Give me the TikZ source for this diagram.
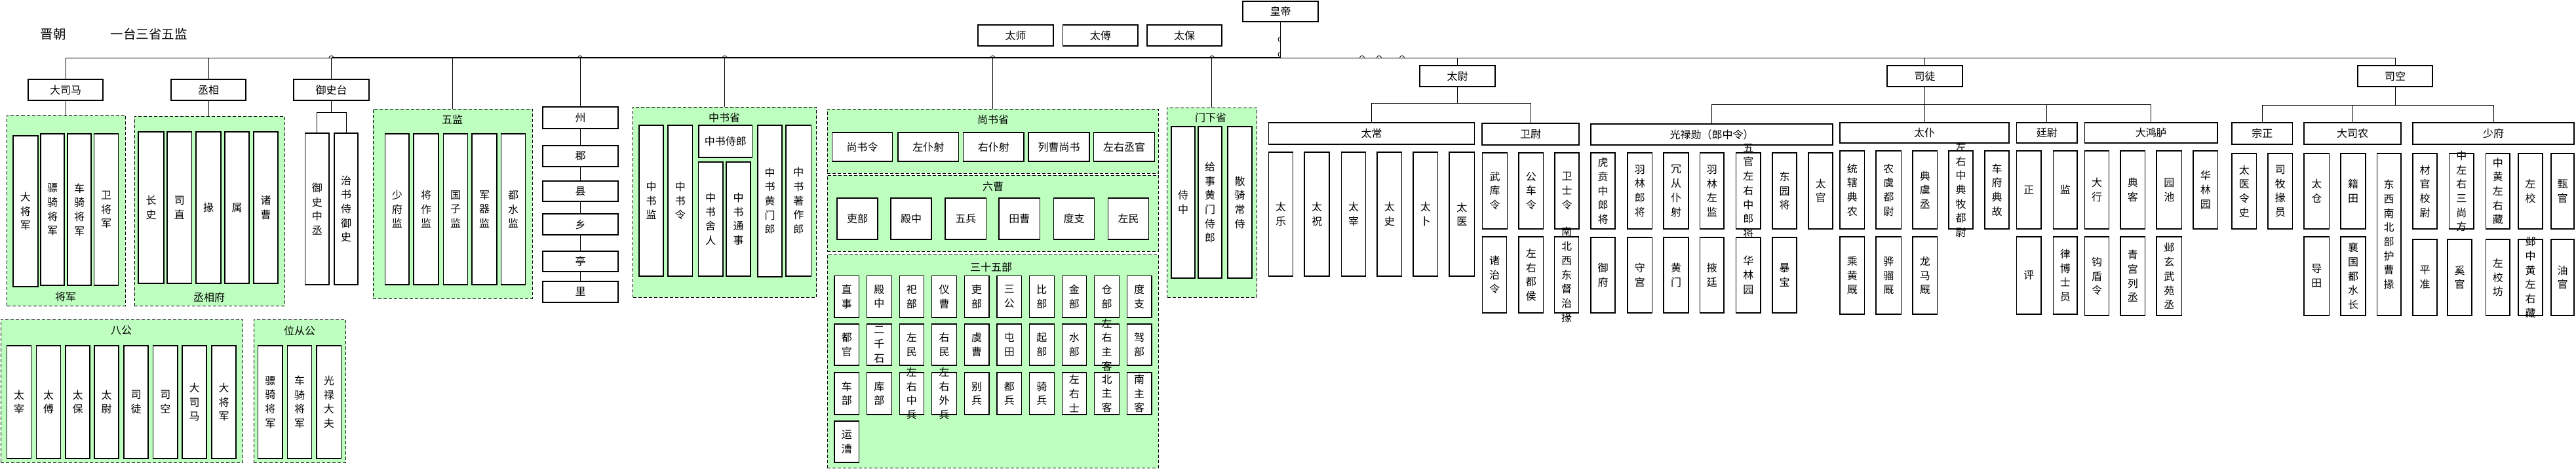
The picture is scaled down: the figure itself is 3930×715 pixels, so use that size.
\documentclass[tikz,border=0pt]{standalone}
\usepackage{fontspec}
\setmainfont{Noto Sans CJK SC}
\usetikzlibrary{fit}
\definecolor{grpgreen}{RGB}{190,255,192}
\ExplSyntaxOn
\NewDocumentCommand\vt{m}{\seq_clear:N \l_tmpa_seq \tl_set:Nx \l_tmpa_tl {#1} \tl_map_inline:Nn \l_tmpa_tl {\seq_put_right:Nn \l_tmpa_seq {##1}} \seq_use:Nn \l_tmpa_seq {\\}}
\ExplSyntaxOff
\newcommand\mkh[6]{\node[box,fit={(#2,#3) (#4,#5)},label={[lbl]center:#6}] (#1) {};}
\newcommand\mkv[6]{\node[box,fit={(#2,#3) (#4,#5)},label={[lbl]center:\vt{#6}}] (#1) {};}
\newcommand\mkg[5]{\node[grp,fit={(#2,#3) (#4,#5)}] (#1) {};}
\begin{document}
\begin{tikzpicture}[x=0.5pt,y=-0.5pt,
  box/.style={draw=black,line width=0.6pt,fill=white,inner sep=0pt,outer sep=0pt},
  grp/.style={draw=black,dash pattern=on 2.5pt off 1.5pt,line width=0.45pt,fill=grpgreen,inner sep=0pt,outer sep=0pt},
  lbl/.style={font=\fontsize{8}{10.85}\selectfont,align=center,inner sep=0pt},
  glbl/.style={font=\fontsize{8}{10}\selectfont,inner sep=0pt},
  ttl/.style={font=\fontsize{9.75}{12}\selectfont,inner sep=0pt},
  conn/.style={line width=0.4pt},
  thickline/.style={line width=0.9pt}]
\useasboundingbox[fill=white] (0,0) rectangle (3930,715);

% titles
\node[ttl] (t1) at (81,52) {晋朝};
\node[ttl] (t2) at (227,52) {一台三省五监};

% top boxes
\mkh{hd}{1896}{2}{2011}{33}{皇帝}
\mkh{ts}{1492}{38}{1607}{70}{太师}
\mkh{tf}{1621.5}{38}{1736}{70}{太傅}
\mkh{tb}{1750}{38}{1864}{70}{太保}

% left part
\mkh{dsm}{43}{121}{157}{153}{大司马}
\mkh{cx}{261}{121}{375}{153}{丞相}
\mkh{yst}{448}{121}{563}{153}{御史台}

\mkg{gjj}{10.5}{176}{191}{466}
\node[glbl] (ljj) at (100,452) {将军};
\mkv{jj1}{20}{207}{58}{437}{大将军}
\mkv{jj2}{62}{204}{98}{435}{骠骑将军}
\mkv{jj3}{103}{204}{139}{435}{车骑将军}
\mkv{jj4}{143.5}{204}{180.5}{435}{卫将军}

\mkg{gcx}{205}{177}{434}{466}
\node[glbl] (lcx) at (319,453) {丞相府};
\mkv{cf1}{211}{201}{250}{432}{长史}
\mkv{cf2}{255}{201}{292.5}{432}{司直}
\mkv{cf3}{299}{201}{337}{432}{掾}
\mkv{cf4}{343}{201}{380}{432}{属}
\mkv{cf5}{387}{201}{424}{432}{诸曹}

\mkv{ys1}{465.5}{203}{502}{434}{御史中丞}
\mkv{ys2}{510}{203}{546}{434}{治书侍御史}

\mkg{gwj}{569}{166}{812}{455}
\node[glbl] (lwj) at (690,182) {五监};
\mkv{wj1}{587.5}{204}{624}{434}{少府监}
\mkv{wj2}{631}{204}{669}{434}{将作监}
\mkv{wj3}{676.5}{204}{713.5}{434}{国子监}
\mkv{wj4}{720}{204}{758}{434}{军器监}
\mkv{wj5}{764.5}{204}{801.5}{434}{都水监}

\mkg{gbg}{1}{487}{370}{705}
\node[glbl] (lbg) at (185,504) {八公};
\mkv{bg1}{10.5}{527}{47.5}{699}{太宰}
\mkv{bg2}{55.5}{527}{92.6}{699}{太傅}
\mkv{bg3}{100}{527}{137}{699}{太保}
\mkv{bg4}{144}{527}{181}{699}{太尉}
\mkv{bg5}{189}{527}{226}{699}{司徒}
\mkv{bg6}{233.5}{527}{271}{699}{司空}
\mkv{bg7}{278}{527}{315}{699}{大司马}
\mkv{bg8}{323}{527}{360}{699}{大将军}

\mkg{gwc}{387}{487}{527}{705}
\node[glbl] (lwc) at (457,504) {位从公};
\mkv{wc1}{393.5}{527}{431}{699}{骠骑将军}
\mkv{wc2}{438.5}{527}{475.5}{699}{车骑将军}
\mkv{wc3}{483}{527}{520.6}{699}{光禄大夫}

% local chain
\mkh{zhou}{828}{163}{943}{196}{州}
\mkh{jun}{828}{222}{943}{254}{郡}
\mkh{xian}{828}{276}{943}{307}{县}
\mkh{xiang}{828}{326}{943}{358}{乡}
\mkh{ting}{828}{383}{943}{414}{亭}
\mkh{li}{828}{429}{943}{461}{里}

% zhongshu
\mkg{gzs}{965.7}{163}{1245.5}{453}
\node[glbl] (lzs) at (1105,179) {中书省};
\mkv{zs1}{975}{191}{1012}{421}{中书监}
\mkv{zs2}{1019}{191}{1056.6}{421}{中书令}
\mkh{zs3}{1066}{191}{1147.5}{240}{中书侍郎}
\mkv{zs4}{1065.4}{247}{1103}{421}{中书舍人}
\mkv{zs5}{1108}{247}{1145}{421}{中书通事}
\mkv{zs6}{1156}{191}{1193}{422}{中书黄门郎}
\mkv{zs7}{1199}{191}{1237.5}{421}{中书著作郎}

% shangshu
\mkg{gss}{1262}{166}{1767}{264}
\node[glbl] (lss) at (1515,182) {尚书省};
\mkh{ss1}{1269.5}{202}{1361.5}{246}{尚书令}
\mkh{ss2}{1370}{202}{1462.5}{246}{左仆射}
\mkh{ss3}{1469.6}{202}{1562}{246}{右仆射}
\mkh{ss4}{1569}{202}{1662}{246}{列曹尚书}
\mkh{ss5}{1668.7}{202}{1761.7}{246}{左右丞官}

\mkg{glc}{1262}{267}{1767}{383}
\node[glbl] (llc) at (1515,284) {六曹};
\mkh{lc1}{1277}{302}{1339}{365}{吏部}
\mkh{lc2}{1359}{302}{1421}{365}{殿中}
\mkh{lc3}{1442}{302}{1504.5}{365}{五兵}
\mkh{lc4}{1524}{302}{1586.6}{365}{田曹}
\mkh{lc5}{1607.6}{302}{1669.5}{365}{度支}
\mkh{lc6}{1690.6}{302}{1752.4}{365}{左民}

\mkg{gsw}{1262}{388}{1767}{713}
\node[glbl] (lsw) at (1512,407) {三十五部};
\foreach \nm [count=\i] in {直事,殿中,祀部,仪曹,吏部,三公,比部,金部,仓部,度支}{
  \pgfmathsetmacro\xa{1273+(\i-1)*49.6}\pgfmathsetmacro\xb{\xa+37.5}
  \mkv{ra\i}{\xa}{420.7}{\xb}{484}{\nm}}
\foreach \nm [count=\i] in {都官,二千石,左民,右民,虞曹,屯田,起部,水部,左右主客,驾部}{
  \pgfmathsetmacro\xa{1273+(\i-1)*49.6}\pgfmathsetmacro\xb{\xa+37.5}
  \mkv{rb\i}{\xa}{494}{\xb}{557}{\nm}}
\foreach \nm [count=\i] in {车部,库部,左右中兵,左右外兵,别兵,都兵,骑兵,左右士,北主客,南主客}{
  \pgfmathsetmacro\xa{1273+(\i-1)*49.6}\pgfmathsetmacro\xb{\xa+37.5}
  \mkv{rc\i}{\xa}{568}{\xb}{632}{\nm}}
\mkv{rd1}{1273}{642}{1310.5}{705}{运漕}

% menxia
\mkg{gmx}{1780.6}{164}{1917}{453}
\node[glbl] (lmx) at (1847,179) {门下省};
\mkv{mx1}{1787}{193}{1823}{424}{侍中}
\mkv{mx2}{1828}{193}{1864}{424}{给事黄门侍郎}
\mkv{mx3}{1873}{193}{1910}{424}{散骑常侍}

% taiwei
\mkh{tw}{2166}{100}{2281}{132}{太尉}
\mkh{tc}{1935.6}{187}{2249.6}{220}{太常}
\mkh{ww}{2261}{188}{2409}{221}{卫尉}
\mkh{gl}{2427}{189}{2796}{221}{光禄勋（郎中令）}
\mkv{tc1}{1935.6}{232}{1972.5}{421}{太乐}
\mkv{tc2}{1990}{232}{2028}{421}{太祝}
\mkv{tc3}{2046.6}{232}{2083.5}{421}{太宰}
\mkv{tc4}{2101}{232}{2138.6}{421}{太史}
\mkv{tc5}{2156}{232}{2193.6}{421}{太卜}
\mkv{tc6}{2211}{232}{2249.6}{421}{太医}
\mkv{ww1}{2261.7}{233}{2299.5}{349}{武库令}
\mkv{ww2}{2317}{233}{2354.5}{349}{公车令}
\mkv{ww3}{2372}{233}{2409}{349}{卫士令}
\mkv{ww4}{2261.7}{361}{2298.6}{477}{诸治令}
\mkv{ww5}{2317}{361}{2354.5}{477}{左右都侯}
\mkv{ww6}{2371.4}{361}{2408.7}{477}{南北西东督治掾}
\mkv{gl1}{2427}{233}{2464}{349}{虎贲中郎将}
\mkv{gl2}{2483}{233}{2520.6}{349}{羽林郎将}
\mkv{gl3}{2538}{233}{2576}{349}{冗从仆射}
\mkv{gl4}{2593.5}{233}{2630}{349}{羽林左监}
\mkv{gl5}{2648.5}{233}{2686}{349}{五官左右中郎将}
\mkv{gl6}{2704}{233}{2741}{349}{东园将}
\mkv{gl7}{2759}{233}{2796}{349}{太官}
\mkv{gl8}{2427}{362}{2464}{477}{御府}
\mkv{gl9}{2483}{362}{2520.6}{477}{守宫}
\mkv{gl10}{2538}{362}{2576}{477}{黄门}
\mkv{gl11}{2593.5}{362}{2630}{477}{掖廷}
\mkv{gl12}{2648.5}{362}{2686}{477}{华林园}
\mkv{gl13}{2704}{362}{2741}{477}{暴宝}

% situ
\mkh{sd}{2879}{100}{2994}{132}{司徒}
\mkh{tp}{2807}{187}{3065}{218}{太仆}
\mkh{tyw}{3076.5}{187}{3169}{218}{廷尉}
\mkh{dhl}{3180.6}{187}{3383}{218}{大鸿胪}
\mkv{tp1}{2807}{230}{2844.5}{349}{统辖典农}
\mkv{tp2}{2862}{230}{2900.5}{349}{农虞都尉}
\mkv{tp3}{2918}{230}{2955.6}{349}{典虞丞}
\mkv{tp4}{2973}{230}{3010}{349}{左右中典牧都尉}
\mkv{tp5}{3028}{230}{3065}{349}{车府典故}
\mkv{tp6}{2807}{361}{2844.5}{479}{乘黄厩}
\mkv{tp7}{2862}{361}{2900.5}{479}{骅骝厩}
\mkv{tp8}{2918}{361}{2955.6}{479}{龙马厩}
\mkv{ty1}{3076.5}{230}{3114}{349}{正}
\mkv{ty2}{3132.5}{230}{3169}{349}{监}
\mkv{ty3}{3076.5}{361}{3114}{479}{评}
\mkv{ty4}{3132.5}{361}{3169}{479}{律博士员}
\mkv{dh1}{3180.6}{230}{3217.5}{349}{大行}
\mkv{dh2}{3235}{230}{3272.5}{349}{典客}
\mkv{dh3}{3290}{230}{3328.5}{349}{园池}
\mkv{dh4}{3346}{230}{3383.6}{349}{华林园}
\mkv{dh5}{3180.6}{361}{3217.5}{481}{钩盾令}
\mkv{dh6}{3235}{361}{3272.5}{481}{青宫列丞}
\mkv{dh7}{3290}{361}{3328.5}{481}{邺玄武苑丞}

% sikong
\mkh{sk}{3597}{100}{3711}{132}{司空}
\mkh{zz}{3405}{187}{3497.6}{220}{宗正}
\mkh{dsn}{3515}{187}{3663}{220}{大司农}
\mkh{sf}{3681}{187}{3927}{220}{少府}
\mkv{zz1}{3405}{234}{3442.5}{349}{太医令史}
\mkv{zz2}{3460}{234}{3497.6}{349}{司牧掾员}
\mkv{dn1}{3515}{234}{3553.5}{349}{太仓}
\mkv{dn2}{3571}{234}{3609}{349}{籍田}
\mkv{dn3}{3626.4}{234}{3663}{481}{东西南北部护曹掾}
\mkv{dn4}{3515}{361}{3553.5}{481}{导田}
\mkv{dn5}{3571}{361}{3609}{481}{襄国都水长}
\mkv{sf1}{3681}{234}{3718}{349}{材官校尉}
\mkv{sf2}{3736.5}{234}{3774}{349}{中左右三尚方}
\mkv{sf3}{3792.5}{234}{3829}{349}{中黄左右藏}
\mkv{sf4}{3842}{234}{3879}{349}{左校}
\mkv{sf5}{3892}{234}{3927}{349}{甄官}
\mkv{sf6}{3681}{365}{3718}{481}{平准}
\mkv{sf7}{3734}{365}{3771}{481}{奚官}
\mkv{sf8}{3792.5}{365}{3829}{481}{左校坊}
\mkv{sf9}{3842}{365}{3879}{481}{邺中黄左右藏}
\mkv{sf10}{3892}{365}{3927}{481}{油官}

% ---------- connectors ----------
\coordinate (bus) at (0,88.3);
\draw[conn] (dsm.north) -- (dsm.north |- bus) -| (sk.north);
\draw[thickline] (yst.north |- bus) -- (hd.south |- bus);
\foreach \n in {cx,yst,gwj,zhou,gzs,gss,gmx,tw,sd}{\draw[conn] (\n.north) -- (\n.north |- bus);}
\draw[conn] (hd.south) -- (hd.south |- bus);
% line jumps
\foreach \xx in {505.5,885,1105.6,1514.5,1849,2078,2104,2139}{
  \draw[conn] (\xx-3.5,88.3) arc[start angle=180,end angle=360,radius=3.5];}
\foreach \yy in {60,83}{
  \draw[conn] (1953.5,\yy-3.5) arc[start angle=270,end angle=90,radius=3.5];}

\draw[conn] (dsm.south) -- (dsm.south |- gjj.north);
\draw[conn] (cx.south) -- (cx.south |- gcx.north);
\path (yst.south) ++(0,18) coordinate (ystj);
\draw[conn] (yst.south) -- (ystj);
\draw[conn] (ys1.north) |- (ystj);
\draw[conn] (ys2.north) |- (ystj);
\draw[conn] (zhou) -- (jun) -- (xian) -- (xiang) -- (ting) -- (li);

\path (tw.south) ++(0,25) coordinate (twj);
\draw[conn] (tw.south) -- (twj);
\draw[conn] (tc.north) |- (twj);
\draw[conn] (ww.north) |- (twj);

\path (sd.south) ++(0,27) coordinate (sdj);
\draw[conn] (sd.south) -- (sd.south |- tp.north);
\draw[conn] (gl.north) |- (sdj);
\draw[conn] (tyw.north) |- (sdj);
\draw[conn] (dhl.north) |- (sdj);

\path (sk.south) ++(0,28) coordinate (skj);
\draw[conn] (sk.south) -- (skj);
\draw[conn] (zz.north) |- (skj);
\draw[conn] (dsn.north) |- (skj);
\draw[conn] (sf.north) |- (skj);
\end{tikzpicture}
\end{document}
